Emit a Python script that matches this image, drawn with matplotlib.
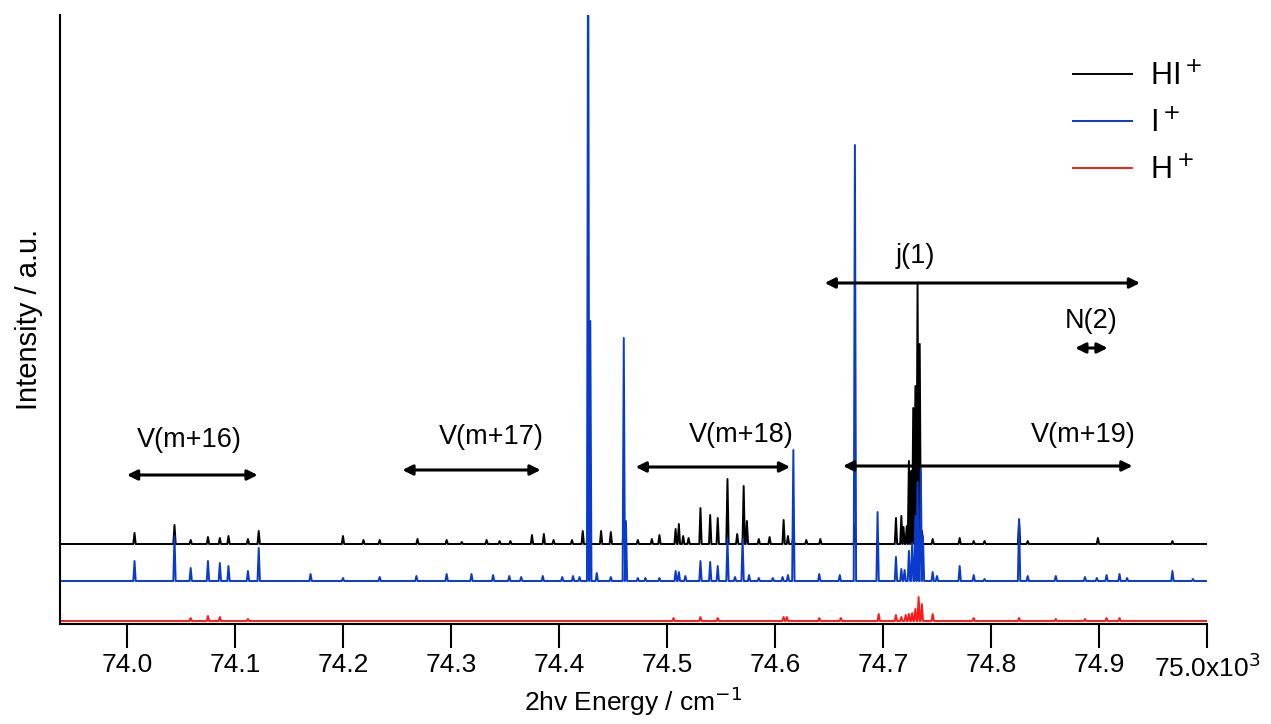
import numpy as np
import matplotlib
matplotlib.use("Agg")
import matplotlib.pyplot as plt

plt.rcParams["font.family"] = ["Liberation Sans", "DejaVu Sans"]

# peak positions (x10^3 cm^-1) and heights (arbitrary units)
black_pos = [74.007, 74.044, 74.059, 74.075, 74.086, 74.094, 74.112, 74.122, 74.200, 74.219,
             74.234, 74.269, 74.296, 74.310, 74.333, 74.345, 74.355, 74.375, 74.386, 74.395,
             74.412, 74.422, 74.428, 74.439, 74.448, 74.460, 74.473, 74.486, 74.493, 74.508,
             74.511, 74.515, 74.520, 74.531, 74.540, 74.547, 74.556, 74.565, 74.571, 74.574,
             74.585, 74.595, 74.608, 74.612, 74.617, 74.629, 74.642, 74.674, 74.695, 74.712,
             74.717, 74.719, 74.722, 74.724, 74.726, 74.728, 74.730, 74.732, 74.734, 74.736,
             74.746, 74.771, 74.784, 74.794, 74.826, 74.834, 74.899, 74.968]
black_h = [11, 19, 4, 7, 6, 8, 5, 13, 8, 4,
           4, 5, 4, 2, 4, 3, 3, 9, 10, 4,
           4, 13, 60, 13, 12, 16, 4, 5, 9, 15,
           20, 8, 6, 36, 29, 26, 65, 10, 58, 23,
           5, 7, 24, 8, 8, 4, 5, 19, 3, 26,
           28, 17, 18, 83, 73, 136, 158, 261, 200, 13,
           5, 6, 3, 3, 23, 3, 6, 3]

blue_pos = [74.007, 74.044, 74.059, 74.075, 74.086, 74.094, 74.112, 74.122, 74.170, 74.200,
            74.234, 74.268, 74.296, 74.319, 74.339, 74.354, 74.365, 74.385, 74.403, 74.413,
            74.419, 74.427, 74.429, 74.435, 74.448, 74.460, 74.462, 74.473, 74.480, 74.493,
            74.508, 74.511, 74.517, 74.531, 74.540, 74.547, 74.556, 74.563, 74.570, 74.576,
            74.585, 74.598, 74.607, 74.612, 74.617, 74.641, 74.660, 74.674, 74.695, 74.712,
            74.717, 74.720, 74.724, 74.727, 74.730, 74.732, 74.735, 74.737, 74.746, 74.750,
            74.771, 74.784, 74.794, 74.826, 74.834, 74.860, 74.887, 74.898, 74.907, 74.919,
            74.926, 74.968, 74.987]
blue_h = [20, 45, 13, 20, 18, 15, 10, 33, 7, 3,
          4, 5, 7, 7, 6, 5, 4, 5, 4, 5,
          4, 700, 260, 8, 4, 243, 60, 3, 3, 3,
          10, 9, 5, 20, 19, 15, 42, 4, 42, 6,
          3, 3, 4, 6, 131, 7, 6, 436, 69, 24,
          12, 11, 30, 38, 65, 99, 112, 45, 9, 5,
          15, 6, 2, 62, 5, 5, 4, 3, 6, 7,
          3, 10, 2]

red_pos = [74.059, 74.075, 74.086, 74.112, 74.506, 74.531, 74.547, 74.608, 74.611, 74.641,
           74.661, 74.696, 74.712, 74.717, 74.721, 74.724, 74.727, 74.730, 74.733, 74.736,
           74.746, 74.784, 74.826, 74.860, 74.887, 74.907, 74.919]
red_h = [3, 5, 4, 2, 3, 4, 3, 4, 4, 3,
         3, 7, 6, 4, 6, 7, 8, 12, 24, 17,
         7, 3, 3, 2, 2, 3, 3]

offsets = {"black": 80, "blue": 43, "red": 3}

tick_vals = [74.0, 74.1, 74.2, 74.3, 74.4, 74.5, 74.6, 74.7, 74.8, 74.9, 75.0]
tick_labels = ["74.0", "74.1", "74.2", "74.3", "74.4", "74.5", "74.6", "74.7", "74.8", "74.9",
               "75.0x10$^3$"]

# (label, x start, x end, arrow y, text y)
bands = [
    ("V(m+16)", 74.000, 74.121, 149, 171),
    ("V(m+17)", 74.255, 74.383, 154, 174),
    ("V(m+18)", 74.471, 74.614, 157, 176),
    ("V(m+19)", 74.663, 74.931, 158, 176),
    ("j(1)", 74.646, 74.938, 341, 355),
    ("N(2)", 74.878, 74.908, 276, 290),
]
band_text_x = [74.058, 74.337, 74.569, 74.885, 74.730, 74.893]

XMIN, XMAX = 73.938, 75.0


def trace(pos, hts, base, w=0.0011):
    order = np.argsort(pos)
    xs, ys = [XMIN], [base]
    for i in order:
        xs += [pos[i] - w, pos[i], pos[i] + w]
        ys += [base, base + hts[i], base]
    xs.append(XMAX)
    ys.append(base)
    return xs, ys


fig = plt.figure(figsize=(12.71, 7.24), dpi=100)
ax = fig.add_axes([60 / 1271, 100 / 724, (1207 - 60) / 1271, (624 - 15) / 724])

for name, pos, hts, lab, col in [("black", black_pos, black_h, "HI$^+$", "black"),
                                  ("blue", blue_pos, blue_h, "I$^+$", "#0a3acc"),
                                  ("red", red_pos, red_h, "H$^+$", "#ff1a1a")]:
    xs, ys = trace(pos, hts, offsets[name])
    ax.plot(xs, ys, color=col, lw=1.4, label=lab)

for (lab, x0, x1, ya, yt), xt in zip(bands, band_text_x):
    ax.annotate("", xy=(x0, ya), xytext=(x1, ya),
                arrowprops=dict(arrowstyle="<|-|>", color="black", lw=2.2,
                                mutation_scale=15, shrinkA=0, shrinkB=0))
    ax.text(xt, yt, lab, ha="center", va="bottom", fontsize=19.5)

ax.set_xlim(XMIN, XMAX)
ax.set_ylim(0, 609)
ax.set_xticks(tick_vals)
ax.set_xticklabels(tick_labels)
ax.set_yticks([])
ax.tick_params(axis="x", direction="out", length=17, width=1.5, labelsize=19, pad=4)
for s in ["top", "right"]:
    ax.spines[s].set_visible(False)
for s in ["left", "bottom"]:
    ax.spines[s].set_linewidth(1.5)

ax.set_xlabel("2hv Energy / cm$^{-1}$", fontsize=19, labelpad=2)
ax.set_ylabel("Intensity / a.u.", fontsize=21, labelpad=12)

ax.legend(loc="upper right", bbox_to_anchor=(1.02, 0.968), frameon=False, fontsize=22,
          handlelength=1.9, labelspacing=0.55, handletextpad=0.6)

fig.savefig("out.png", dpi=100)
